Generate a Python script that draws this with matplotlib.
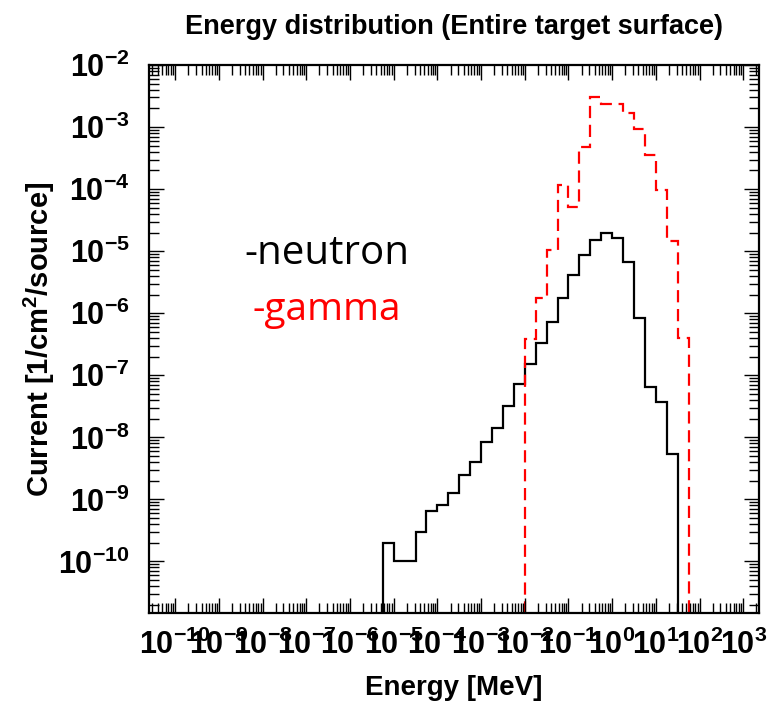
import numpy as np
import matplotlib
matplotlib.use("Agg")
import matplotlib.pyplot as plt
from matplotlib.ticker import LogLocator, FuncFormatter, NullFormatter

plt.rcParams['font.family'] = ['Liberation Sans', 'DejaVu Sans']
plt.rcParams['mathtext.fontset'] = 'custom'
plt.rcParams['mathtext.rm'] = 'Liberation Sans:bold'
plt.rcParams['mathtext.bf'] = 'Liberation Sans:bold'
plt.rcParams['mathtext.default'] = 'bf'

# bin edges (log10 MeV), 4 bins per decade
neutron_edges = np.arange(-5.25, 1.51, 0.25)
neutron = [2.0e-10, 1.0e-10, 1.0e-10, 3.0e-10, 6.4e-10, 8.2e-10, 1.28e-9,
           2.5e-9, 4.0e-9, 8.4e-9, 1.39e-8, 3.2e-8, 7.2e-8, 1.52e-7, 3.3e-7,
           7.3e-7, 1.74e-6, 4.1e-6, 8.7e-6, 1.51e-5, 1.94e-5, 1.63e-5,
           6.7e-6, 8.3e-7, 6.6e-8, 3.77e-8, 5.3e-9]

gamma_edges = np.arange(-2.0, 1.76, 0.25)
gamma = [3.8e-7, 1.78e-6, 1.04e-5, 1.15e-4, 5.1e-5, 4.8e-4, 3.0e-3,
         2.33e-3, 2.33e-3, 1.66e-3, 9.2e-4, 3.6e-4, 9.8e-5, 1.44e-5, 4.0e-7]

fig = plt.figure(figsize=(7.77, 7.07), dpi=100)
ax = fig.add_axes([0.1918, 0.133, 0.785, 0.775])

ax.stairs(neutron, 10**neutron_edges, baseline=1e-20, color='black', lw=1.6)
ax.stairs(gamma, 10**gamma_edges, baseline=1e-20, color='red', lw=1.6,
          linestyle=(0, (5.5, 3.0)))

ax.set_xscale('log')
ax.set_yscale('log')
ax.set_xlim(10**-10.6, 10**3.36)
ax.set_ylim(10**-10.83, 1e-2)

def sci(v, pos):
    return r'$\mathbf{10^{%d}}$' % int(round(np.log10(v)))

for axis in (ax.xaxis, ax.yaxis):
    axis.set_major_locator(LogLocator(base=10, numticks=30))
    axis.set_minor_locator(LogLocator(base=10, subs=np.arange(2, 10), numticks=30))
    axis.set_major_formatter(FuncFormatter(sci))
    axis.set_minor_formatter(NullFormatter())

ax.tick_params(which='both', direction='in', top=True, right=True,
               labelsize=22, width=1.0)
ax.tick_params(which='major', length=11)
ax.tick_params(which='minor', length=7)
ax.tick_params(axis='x', pad=12)
ax.tick_params(axis='y', pad=14)
for s in ax.spines.values():
    s.set_linewidth(1.6)

ax.set_title('Energy distribution (Entire target surface)', fontsize=19.5,
             fontweight='bold', pad=22)
ax.set_xlabel('Energy [MeV]', fontsize=20, fontweight='bold', labelpad=10)
ax.set_ylabel(r'Current [1/cm$^\mathbf{2}$/source]', fontsize=21,
              fontweight='bold', labelpad=1)

ax.text(0.157, 0.655, '-neutron', transform=ax.transAxes, fontsize=29,
        family='Open Sans', color='black', va='center')
ax.text(0.170, 0.553, '-gamma', transform=ax.transAxes, fontsize=28,
        family='Open Sans', color='red', va='center')

fig.savefig('out.png', dpi=100)
